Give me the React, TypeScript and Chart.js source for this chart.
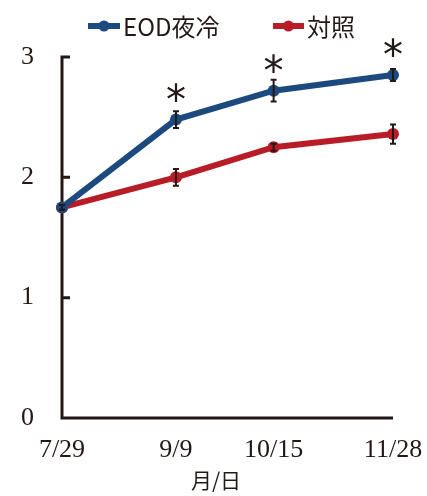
import React, { useEffect, useRef } from "react";
import { Chart, registerables } from "chart.js";

Chart.register(...registerables);

const categories = ["7/29", "9/9", "10/15", "11/28"];
const dayOffsets = [0, 42, 78, 122];
const eodValues = [1.75, 2.48, 2.72, 2.85];
const eodErrors = [0.02, 0.07, 0.09, 0.05];
const controlValues = [1.75, 2.0, 2.25, 2.36];
const controlErrors = [0.02, 0.07, 0.03, 0.08];
const significance = ["", "*", "*", "*"];
const seriesNames = ["EOD夜冷", "対照"];
const xAxisTitle = "月/日";
const yMin = 0;
const yMax = 3;

const BLUE = "#1d4a7e";
const RED = "#b81d27";
const AXIS = "#231815";
const CJK = '"Noto Sans CJK JP", "Noto Sans", sans-serif';
const SERIF = '"Liberation Serif", "DejaVu Serif", serif';

const decorPlugin = {
  id: "decor",
  beforeDatasetsDraw(chart: any) {
    const { ctx, chartArea, scales } = chart;
    const y = scales.y;
    ctx.save();
    ctx.strokeStyle = AXIS;
    ctx.lineWidth = 3;
    ctx.lineCap = "butt";
    ctx.beginPath();
    ctx.moveTo(chartArea.left, chartArea.top - 1.5);
    ctx.lineTo(chartArea.left, chartArea.bottom + 1.5);
    ctx.moveTo(chartArea.left - 1.5, chartArea.bottom);
    ctx.lineTo(chartArea.right, chartArea.bottom);
    for (let v = yMin + 1; v <= yMax; v++) {
      const py = y.getPixelForValue(v);
      ctx.moveTo(chartArea.left, py);
      ctx.lineTo(chartArea.left + 8, py);
    }
    ctx.stroke();
    ctx.restore();
  },
  afterDatasetsDraw(chart: any) {
    const { ctx, scales } = chart;
    const x = scales.x;
    const y = scales.y;
    const errs = [eodErrors, controlErrors];
    const vals = [eodValues, controlValues];
    ctx.save();
    ctx.strokeStyle = AXIS;
    ctx.lineWidth = 2;
    for (let d = 0; d < 2; d++) {
      for (let i = 0; i < dayOffsets.length; i++) {
        const px = x.getPixelForValue(dayOffsets[i]);
        const top = y.getPixelForValue(vals[d][i] + errs[d][i]);
        const bot = y.getPixelForValue(vals[d][i] - errs[d][i]);
        ctx.beginPath();
        ctx.moveTo(px, top);
        ctx.lineTo(px, bot);
        ctx.moveTo(px - 3, top);
        ctx.lineTo(px + 3, top);
        ctx.moveTo(px - 3, bot);
        ctx.lineTo(px + 3, bot);
        ctx.stroke();
      }
    }
    ctx.fillStyle = AXIS;
    ctx.font = '40px "DejaVu Sans", sans-serif';
    ctx.textAlign = "center";
    ctx.textBaseline = "alphabetic";
    for (let i = 0; i < dayOffsets.length; i++) {
      if (!significance[i]) continue;
      const px = x.getPixelForValue(dayOffsets[i]);
      const py = y.getPixelForValue(eodValues[i]);
      ctx.fillText(significance[i], px, py - 6);
    }
    ctx.restore();
  },
  afterDraw(chart: any) {
    const { ctx } = chart;
    ctx.save();
    const items = [
      { name: seriesNames[0], color: BLUE, x0: 88, x1: 120 },
      { name: seriesNames[1], color: RED, x0: 273, x1: 304 },
    ];
    const ly = 26;
    for (const it of items) {
      ctx.strokeStyle = it.color;
      ctx.fillStyle = it.color;
      ctx.lineWidth = 6;
      ctx.beginPath();
      ctx.moveTo(it.x0, ly);
      ctx.lineTo(it.x1, ly);
      ctx.stroke();
      ctx.beginPath();
      ctx.arc((it.x0 + it.x1) / 2, ly, 5.5, 0, Math.PI * 2);
      ctx.fill();
      ctx.fillStyle = AXIS;
      ctx.font = "24px " + CJK;
      ctx.textAlign = "left";
      ctx.textBaseline = "middle";
      ctx.fillText(it.name, it.x1 + 3, ly + 1);
    }
    ctx.font = "21px " + CJK;
    ctx.textAlign = "center";
    ctx.textBaseline = "middle";
    ctx.fillStyle = AXIS;
    ctx.fillText(xAxisTitle, 216, 480);
    ctx.restore();
  },
};

export default function App() {
  const ref = useRef<HTMLCanvasElement>(null);
  useEffect(() => {
    if (!ref.current) return;
    const chart = new Chart(ref.current, {
      type: "line",
      data: {
        datasets: [
          {
            label: seriesNames[0],
            data: dayOffsets.map((d, i) => ({ x: d, y: eodValues[i] })),
            borderColor: BLUE,
            backgroundColor: BLUE,
            borderWidth: 6,
            pointRadius: 6,
            pointBorderWidth: 0,
            pointBackgroundColor: BLUE,
            clip: false,
          } as any,
          {
            label: seriesNames[1],
            data: dayOffsets.map((d, i) => ({ x: d, y: controlValues[i] })),
            borderColor: RED,
            backgroundColor: RED,
            borderWidth: 6,
            pointRadius: 6,
            pointBorderWidth: 0,
            pointBackgroundColor: RED,
            clip: false,
          } as any,
        ],
      },
      options: {
        responsive: false,
        animation: false,
        layout: { padding: { top: 57, right: 34, left: 0, bottom: 0 } },
        plugins: { legend: { display: false }, tooltip: { enabled: false } },
        scales: {
          x: {
            type: "linear",
            min: dayOffsets[0],
            max: dayOffsets[dayOffsets.length - 1],
            grid: { display: false, drawTicks: false },
            border: { display: false },
            afterBuildTicks: (scale: any) => {
              scale.ticks = dayOffsets.map((v) => ({ value: v }));
            },
            afterFit: (scale: any) => {
              scale.height = 78;
              scale.paddingLeft = 0;
              scale.paddingRight = 0;
            },
            ticks: {
              autoSkip: false,
              maxRotation: 0,
              padding: 17,
              color: AXIS,
              font: { family: SERIF, size: 26 },
              callback: (v: any) => {
                const i = dayOffsets.indexOf(Number(v));
                return i >= 0 ? categories[i] : "";
              },
            },
          },
          y: {
            min: yMin,
            max: yMax,
            grid: { display: false, drawTicks: false },
            border: { display: false },
            afterFit: (scale: any) => {
              scale.width = 62;
              scale.paddingTop = 0;
              scale.paddingBottom = 0;
            },
            ticks: {
              stepSize: 1,
              padding: 28,
              color: AXIS,
              font: { family: SERIF, size: 26 },
            },
          },
        },
      },
      plugins: [decorPlugin],
    });
    return () => chart.destroy();
  }, []);
  return (
    <div style={{ position: "absolute", left: 0, top: 0, width: 427, height: 496, background: "#fff" }}>
      <canvas ref={ref} width={427} height={496} />
    </div>
  );
}
